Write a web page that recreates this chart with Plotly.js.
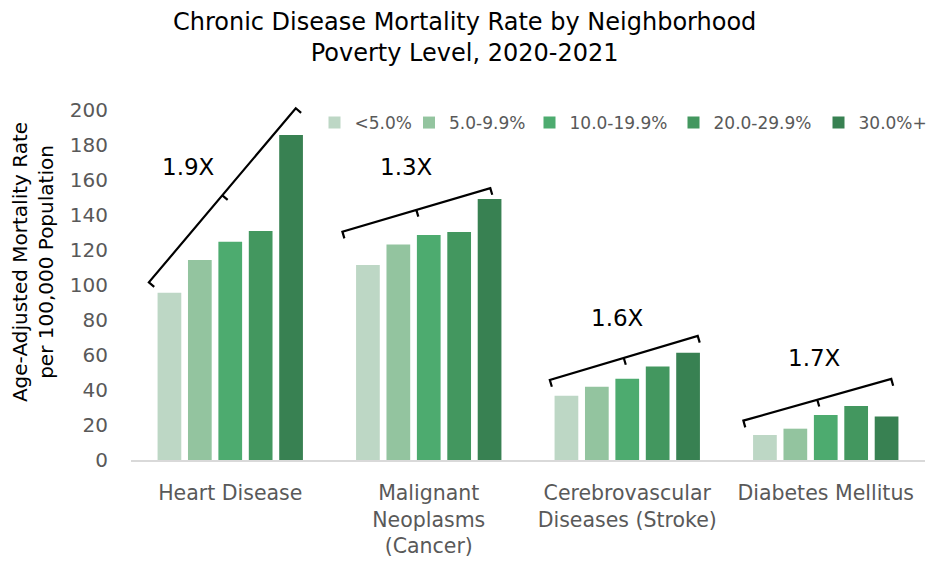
<!DOCTYPE html>
<html>
<head>
<meta charset="utf-8">
<script src="https://cdn.plot.ly/plotly-3.0.1.min.js"></script>
<style>html,body{margin:0;padding:0;background:#fff;}#chart{width:933px;height:561px;}</style>
</head>
<body>
<div id="chart"></div>
<script>
// ---- data ----
const categories = ["Heart Disease", "Malignant<br>Neoplasms<br>(Cancer)", "Cerebrovascular<br>Diseases (Stroke)", "Diabetes Mellitus"];
const seriesNames = ["<5.0%", "5.0-9.9%", "10.0-19.9%", "20.0-29.9%", "30.0%+"];
const povLt5   = [95.6, 111.4, 36.7, 14.3];
const pov5_10  = [114.3, 123.2, 41.9, 17.9];
const pov10_20 = [124.7, 128.6, 46.5, 25.7];
const pov20_30 = [130.9, 130.3, 53.5, 30.9];
const pov30p   = [185.7, 149.1, 61.3, 24.8];
const seriesColors = ["#BDD7C5", "#93C49F", "#4DAB6F", "#43975F", "#388152"];
// bracket annotations (ratio highest/lowest poverty), ends in (category index, value)
const ratioLabels = ["1.9X", "1.3X", "1.6X", "1.7X"];
const bracketStartX = [-0.41, 0.565, 1.61, 2.585];
const bracketStartY = [101.5, 130.5, 45.7, 22.5];
const bracketEndX   = [0.33, 1.31, 2.355, 3.33];
const bracketEndY   = [201, 155.4, 70.9, 46.3];
const ratioLabelX   = [-0.21, 0.89, 1.95, 2.945];
const ratioLabelY   = [167.5, 167.5, 81, 58.3];
// legend entry positions (px from left of figure): symbol centre and text start
const legendSymbolPx = [341, 433, 554, 698, 843];
const legendTextPx   = [348, 445, 565, 709, 854];

const allSeries = [povLt5, pov5_10, pov10_20, pov20_30, pov30p];
const FONT = "DejaVu Sans, Verdana, sans-serif";

const W = 933, H = 561;
const M = {l: 131, r: 8, t: 64, b: 101, pad: 0, autoexpand: false};
const yRange = [0, 226.3];
const xRange = [-0.5, 3.5];
const plotW = W - M.l - M.r, plotH = H - M.t - M.b;
const pxPerX = plotW / (xRange[1] - xRange[0]);
const pxPerY = plotH / (yRange[1] - yRange[0]);
const hook = 7;

const legendKeys = ["legend", "legend2", "legend3", "legend4", "legend5"];
const traces = allSeries.map((vals, i) => ({
  type: "bar",
  name: seriesNames[i],
  x: categories,
  y: vals,
  legend: legendKeys[i],
  marker: {color: seriesColors[i], line: {width: 0}},
  hoverinfo: "y+name"
}));

const shapes = [];
const annotations = [];
for (let i = 0; i < ratioLabels.length; i++) {
  const x1 = bracketStartX[i], y1 = bracketStartY[i], x2 = bracketEndX[i], y2 = bracketEndY[i];
  const sx = (x2 - x1) * pxPerX, sy = -(y2 - y1) * pxPerY;
  const len = Math.hypot(sx, sy);
  let nx = -sy / len, ny = sx / len;
  if (ny < 0) { nx = -nx; ny = -ny; }
  const hdx = nx * hook / pxPerX, hdy = -ny * hook / pxPerY;
  const mx = (x1 + x2) / 2, my = (y1 + y2) / 2;
  const path = `M${x1 + hdx},${y1 + hdy} L${x1},${y1} L${x2},${y2} L${x2 + hdx},${y2 + hdy} M${mx},${my} L${mx + hdx},${my + hdy}`;
  shapes.push({type: "path", xref: "x", yref: "y", path: path, line: {color: "#000", width: 2.2}, layer: "above"});
  annotations.push({
    x: ratioLabelX[i], y: ratioLabelY[i], xref: "x", yref: "y",
    text: ratioLabels[i], showarrow: false,
    font: {family: FONT, size: 23, color: "#000"}
  });
}

const layout = {
  width: W, height: H,
  margin: M,
  paper_bgcolor: "#fff", plot_bgcolor: "#fff",
  font: {family: FONT, color: "#595959"},
  title: {
    text: "Chronic Disease Mortality Rate by Neighborhood<br>Poverty Level, 2020-2021",
    font: {family: FONT, size: 24, color: "#000"},
    x: 0.498, xanchor: "center", xref: "container",
    y: 0.947, yanchor: "top", yref: "container"
  },
  barmode: "group",
  bargap: 0.234,
  bargroupgap: 0.22,
  showlegend: true,
  xaxis: {
    type: "category",
    range: xRange,
    showline: true, linecolor: "#D9D9D9", linewidth: 1.5,
    showgrid: false, zeroline: false,
    ticks: "", ticklabelstandoff: 14,
    tickfont: {family: FONT, size: 20.5, color: "#595959"},
    automargin: false
  },
  yaxis: {
    range: yRange,
    tickvals: [0, 20, 40, 60, 80, 100, 120, 140, 160, 180, 200],
    showgrid: false, zeroline: false, showline: false,
    ticks: "", ticklabelstandoff: 22,
    tickfont: {family: FONT, size: 20, color: "#595959"},
    title: {
      text: "Age-Adjusted Mortality Rate<br>per 100,000 Population",
      font: {family: FONT, size: 20, color: "#000"},
      standoff: 10
    },
    automargin: false
  },
  shapes: shapes,
  annotations: annotations
};

// one small legend per series so each entry sits where the reference puts it
legendKeys.forEach((key, i) => {
  const x0 = (legendSymbolPx[i] + legendTextPx[i]) / 2 - 30;
  layout[key] = {
    orientation: "h",
    x: (x0 - M.l) / plotW, xanchor: "left", xref: "paper",
    y: (460 - 123) / plotH, yanchor: "middle", yref: "paper",
    font: {family: FONT, size: 17, color: "#595959"},
    bgcolor: "rgba(0,0,0,0)",
    borderwidth: 0
  };
});

Plotly.newPlot("chart", traces, layout, {displayModeBar: false, staticPlot: true});
</script>
</body>
</html>
